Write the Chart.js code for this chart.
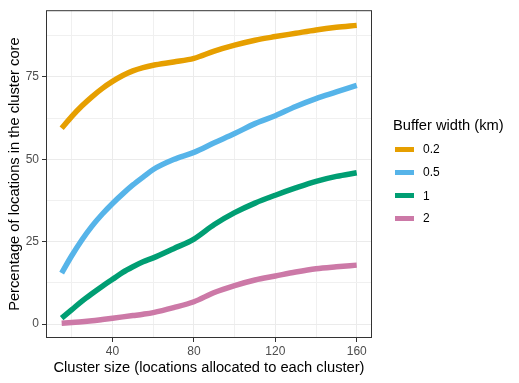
<!DOCTYPE html>
<html>
<head>
<meta charset="utf-8">
<script src="https://cdn.jsdelivr.net/npm/chart.js@4.4.0/dist/chart.umd.min.js"></script>
<style>
  body { margin: 0; background: #fff; font-family: "Liberation Sans", Arial, sans-serif; }
  #wrap { position: relative; width: 519px; height: 383px; }
  #legend { position: absolute; left: 0; top: 0; }
  .lg-title { position: absolute; left: 393px; top: 116px; font-size: 14.7px; line-height: 18px; color: #000; white-space: nowrap; }
  .lg-key { position: absolute; left: 395px; width: 19px; height: 5px; }
  .lg-label { position: absolute; left: 423px; font-size: 12px; line-height: 14px; color: #000; }
</style>
</head>
<body>
<div id="wrap">
  <canvas id="myChart" width="519" height="383"></canvas>
  <div id="legend"></div>
</div>
<script>
// tamaño del cluster (eje x)
let clusterSize = [15, 20, 25, 30, 35, 40, 45, 50, 55, 60, 70, 80, 90, 100, 110, 120, 130, 140, 150, 160];

// porcentaje en el núcleo, una serie por ancho de buffer
let buffer02 = [59.4, 63.0, 66.2, 69.0, 71.5, 73.6, 75.4, 76.8, 77.8, 78.5, 79.5, 80.6, 82.8, 84.6, 86.1, 87.2, 88.2, 89.2, 90.0, 90.6];
let buffer05 = [15.5, 20.8, 25.6, 29.8, 33.4, 36.6, 39.5, 42.2, 44.6, 46.9, 49.9, 52.1, 55.0, 57.8, 60.8, 63.2, 66.0, 68.4, 70.4, 72.4];
let buffer1 = [1.8, 4.4, 7.0, 9.3, 11.5, 13.6, 15.7, 17.4, 18.9, 20.1, 22.9, 25.8, 30.2, 33.8, 36.7, 39.1, 41.3, 43.3, 44.8, 45.9];
let buffer2 = [0.3, 0.5, 0.7, 1.0, 1.4, 1.8, 2.2, 2.6, 3.0, 3.5, 5.0, 6.8, 9.6, 11.7, 13.4, 14.6, 15.8, 16.8, 17.4, 17.9];

let bufferLabels = ['0.2', '0.5', '1', '2'];
let lineColors = ['#E69F00', '#56B4E9', '#009E73', '#CC79A7'];

let xTicks = [20, 40, 60, 80, 100, 120, 140, 160];
let yTicks = [0, 12.5, 25, 37.5, 50, 62.5, 75, 87.5];

let seriesValues = [buffer02, buffer05, buffer1, buffer2];

// borde del panel (estilo theme_bw)
const panelBorder = {
  id: 'panelBorder',
  afterDraw(chart) {
    const { ctx, chartArea } = chart;
    ctx.save();
    ctx.strokeStyle = '#333333';
    ctx.lineWidth = 1;
    ctx.strokeRect(chartArea.left + 0.5, chartArea.top + 0.5, chartArea.right - chartArea.left - 1, chartArea.bottom - chartArea.top - 1);
    ctx.restore();
  }
};

function isMajorX(v) { return v % 40 === 0; }
function isMajorY(v) { return v % 25 === 0; }

let datasets = seriesValues.map((vals, i) => ({
  label: bufferLabels[i],
  data: clusterSize.map((x, j) => ({ x: x, y: vals[j] })),
  borderColor: lineColors[i],
  backgroundColor: lineColors[i],
  borderWidth: 5.5,
  pointRadius: 0,
  fill: false,
  cubicInterpolationMode: 'monotone',
  borderCapStyle: 'butt'
}));

let tickFont = { family: '"Liberation Sans", Arial, sans-serif', size: 12 };
let titleFont = { family: '"Liberation Sans", Arial, sans-serif', size: 14.7 };

var ctx = document.getElementById('myChart').getContext('2d');
var lineChart = new Chart(ctx, {
  type: 'line',
  data: { datasets: datasets },
  options: {
    responsive: false,
    animation: false,
    layout: { padding: { left: 0, right: 147, top: 7, bottom: 0 } },
    plugins: { legend: { display: false }, tooltip: { enabled: false } },
    scales: {
      x: {
        type: 'linear',
        min: 7.3,
        max: 167.5,
        afterBuildTicks: scale => { scale.ticks = xTicks.map(v => ({ value: v })); },
        afterFit: scale => { scale.height = 45; },
        ticks: {
          color: '#4D4D4D',
          font: tickFont,
          padding: 2,
          maxRotation: 0,
          autoSkip: false,
          callback: v => isMajorX(v) ? String(v) : ''
        },
        grid: {
          color: c => isMajorX(c.tick.value) ? '#EBEBEB' : '#F0F0F0',
          lineWidth: 1,
          tickColor: c => isMajorX(c.tick.value) ? '#333333' : 'rgba(0,0,0,0)',
          tickLength: 4,
          tickWidth: 1
        },
        border: { display: false },
        title: {
          display: true,
          text: 'Cluster size (locations allocated to each cluster)',
          color: '#000',
          font: titleFont,
          padding: { top: 0, bottom: 6 }
        }
      },
      y: {
        min: -4.2,
        max: 95.2,
        afterBuildTicks: scale => { scale.ticks = yTicks.map(v => ({ value: v })); },
        afterFit: scale => { scale.width = 46; },
        ticks: {
          color: '#4D4D4D',
          font: tickFont,
          padding: 3,
          autoSkip: false,
          callback: v => isMajorY(v) ? String(v) : ''
        },
        grid: {
          color: c => isMajorY(c.tick.value) ? '#EBEBEB' : '#F0F0F0',
          lineWidth: 1,
          tickColor: c => isMajorY(c.tick.value) ? '#333333' : 'rgba(0,0,0,0)',
          tickLength: 4,
          tickWidth: 1
        },
        border: { display: false },
        title: {
          display: true,
          text: 'Percentage of locations in the cluster core',
          color: '#000',
          font: titleFont,
          padding: { top: 6, bottom: 0 }
        }
      }
    }
  },
  plugins: [panelBorder]
});

// leyenda en HTML
let legendEl = document.getElementById('legend');
let legendHtml = '<div class="lg-title">Buffer width (km)</div>';
let keyRows = [149, 172, 195.5, 218];
bufferLabels.forEach((lab, i) => {
  legendHtml += '<div class="lg-key" style="top:' + (keyRows[i] - 2.5) + 'px;background:' + lineColors[i] + '"></div>';
  legendHtml += '<div class="lg-label" style="top:' + (keyRows[i] - 7) + 'px">' + lab + '</div>';
});
legendEl.innerHTML = legendHtml;
</script>
</body>
</html>
